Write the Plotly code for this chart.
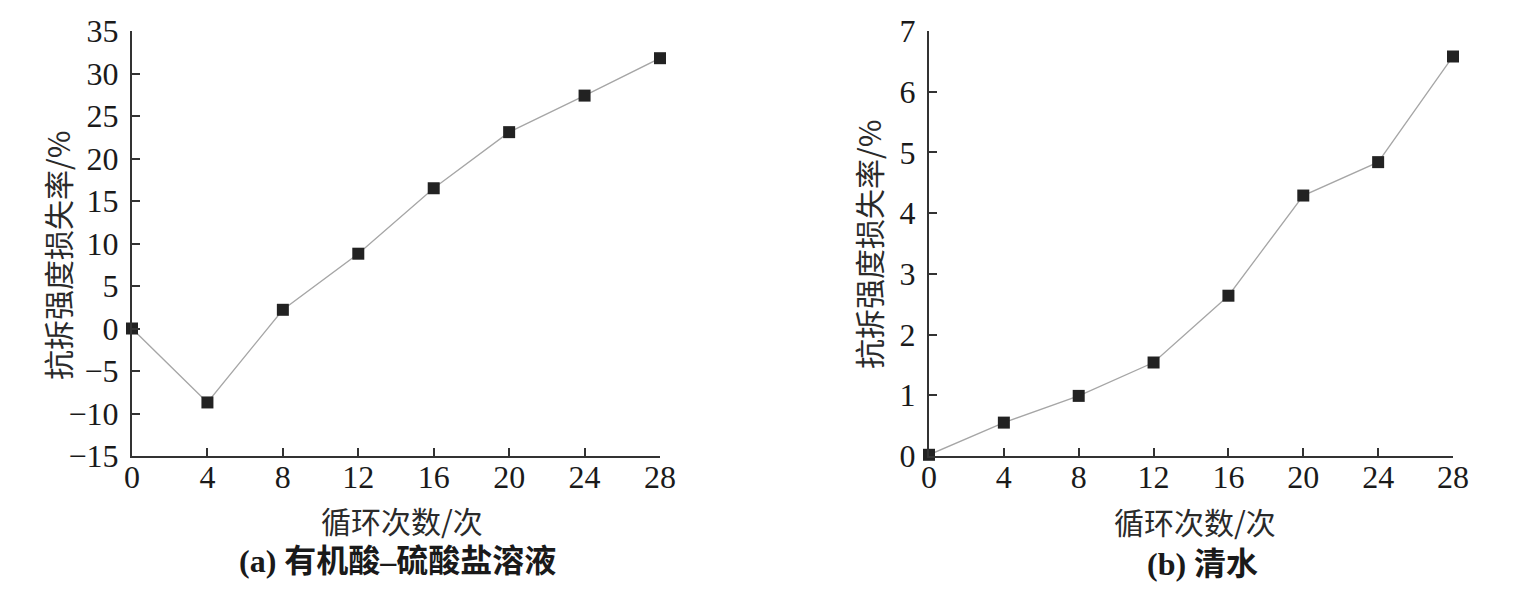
import plotly.graph_objects as go

# ---- data ----
cycles = [0, 4, 8, 12, 16, 20, 24, 28]
loss_acid_sulfate = [0.0, -8.7, 2.2, 8.8, 16.5, 23.1, 27.4, 31.8]
loss_clear_water = [0.02, 0.55, 0.99, 1.54, 2.64, 4.29, 4.84, 6.58]
x_ticks = [0, 4, 8, 12, 16, 20, 24, 28]
y_ticks_a = [-15, -10, -5, 0, 5, 10, 15, 20, 25, 30, 35]
y_ticks_b = [0, 1, 2, 3, 4, 5, 6, 7]
x_title = "循环次数/次"
y_title = "抗拆强度损失率/%"
sub_a = "<b>(a) 有机酸–硫酸盐溶液</b>"
sub_b = "<b>(b) 清水</b>"

W, H = 1521, 595
NUM_FONT = "Liberation Serif, Noto Sans CJK SC, serif"
CJK_FONT = "Noto Sans CJK SC, Liberation Serif, sans-serif"

def px(x):
    return x / W

def py(y):
    return 1 - y / H

fig = go.Figure()

line_style = dict(color="#a6a6a6", width=1.3)
marker_style = dict(symbol="square", size=12, color="#222222")

fig.add_trace(go.Scatter(x=cycles, y=loss_acid_sulfate, mode="lines+markers",
                         line=line_style, marker=marker_style, cliponaxis=False,
                         xaxis="x", yaxis="y", showlegend=False))
fig.add_trace(go.Scatter(x=cycles, y=loss_clear_water, mode="lines+markers",
                         line=line_style, marker=marker_style, cliponaxis=False,
                         xaxis="x2", yaxis="y2", showlegend=False))

axis_common = dict(
    showline=True, linecolor="#333333", linewidth=2,
    ticks="inside", ticklen=8, tickwidth=1.5, tickcolor="#333333",
    showgrid=False, zeroline=False, automargin=False,
    tickfont=dict(family=NUM_FONT, size=32, color="#1a1a1a"),
)

ydom = [py(456), py(31)]

fig.update_layout(
    width=W, height=H,
    margin=dict(l=0, r=0, t=0, b=0),
    paper_bgcolor="white", plot_bgcolor="white",
    xaxis=dict(domain=[px(132), px(660)], range=[0, 28], tickvals=x_ticks,
               anchor="y", ticklabelstandoff=-8, **axis_common),
    yaxis=dict(domain=ydom, range=[-15, 35], tickvals=y_ticks_a,
               anchor="x", ticklabelstandoff=5, **axis_common),
    xaxis2=dict(domain=[px(929), px(1453)], range=[0, 28], tickvals=x_ticks,
                anchor="y2", ticklabelstandoff=-8, **axis_common),
    yaxis2=dict(domain=ydom, range=[0, 7], tickvals=y_ticks_b,
                anchor="x2", ticklabelstandoff=5, **axis_common),
)

annots = [
    dict(text=x_title, x=px(402), y=py(520), size=30, angle=0, font=CJK_FONT, color="#2a2a2a"),
    dict(text=x_title, x=px(1195), y=py(521), size=30, angle=0, font=CJK_FONT, color="#2a2a2a"),
    dict(text=y_title, x=px(57), y=py(256), size=30, angle=-90, font=CJK_FONT, color="#2a2a2a"),
    dict(text=y_title, x=px(868), y=py(244), size=30, angle=-90, font=CJK_FONT, color="#2a2a2a"),
    dict(text=sub_a, x=px(397), y=py(561), size=32, angle=0, font=NUM_FONT, color="#1a1a1a"),
    dict(text=sub_b, x=px(1202), y=py(564), size=32, angle=0, font=NUM_FONT, color="#1a1a1a"),
]
for a in annots:
    fig.add_annotation(text=a["text"], x=a["x"], y=a["y"], xref="paper", yref="paper",
                       xanchor="center", yanchor="middle", showarrow=False,
                       textangle=a["angle"],
                       font=dict(family=a["font"], size=a["size"], color=a["color"]))

fig.write_html("out.html", config={"displayModeBar": False})

with open("out.html", "r", encoding="utf-8") as f:
    html = f.read()
html = html.replace("<head>", "<head><style>html,body{margin:0;padding:0;overflow:hidden;}</style>", 1)
with open("out.html", "w", encoding="utf-8") as f:
    f.write(html)
